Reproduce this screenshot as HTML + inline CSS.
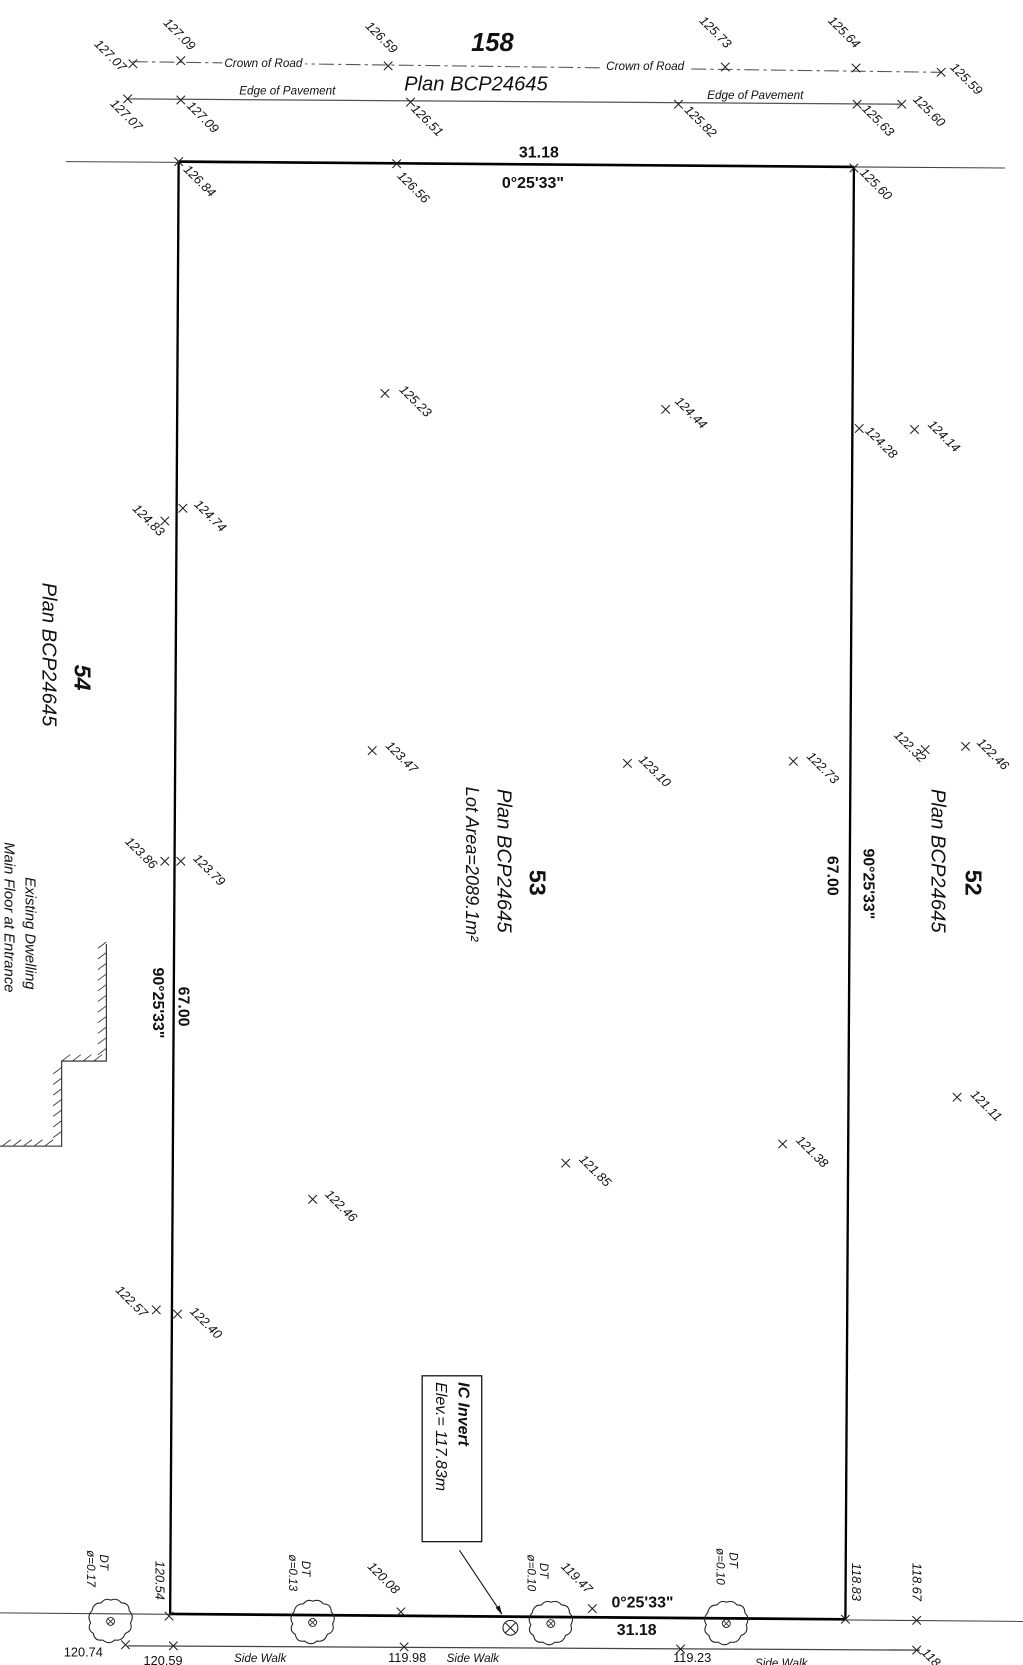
<!DOCTYPE html>
<html><head><meta charset="utf-8"><style>
html,body{margin:0;padding:0;background:#fff;}
svg{display:block;}
text{font-family:"Liberation Sans",sans-serif;fill:#111;}
.e{font-size:12px;font-style:italic;}
.b{font-weight:bold;}
.i{font-style:italic;}
</style></head><body>
<svg width="1023" height="1665" viewBox="0 0 962 1566" preserveAspectRatio="none" xmlns="http://www.w3.org/2000/svg">
<defs>
<g id="x"><path d="M-4,-4L4,4M-4,4L4,-4" stroke="#222" stroke-width="1"/></g>
<g id="t"><g transform="scale(1.25)"><path d="M0,-16 q5,-2 8,2 q6,0 6,6 q4,4 1,9 q2,6 -4,8 q-2,6 -8,5 q-4,4 -9,0 q-6,1 -7,-5 q-5,-3 -2,-8 q-3,-5 1,-9 q1,-6 7,-6 q3,-4 7,-2z" fill="none" stroke="#222" stroke-width="0.8"/><circle r="3" fill="none" stroke="#222" stroke-width="0.7"/><path d="M-2,-2L2,2M-2,2L2,-2" stroke="#222" stroke-width="0.6"/></g></g>
</defs>
<!-- road lines -->
<line x1="125" y1="58" x2="885" y2="68" stroke="#555" stroke-width="1" stroke-dasharray="14,4,3,4"/>
<line x1="120" y1="93" x2="848" y2="98" stroke="#555" stroke-width="1.2"/>
<rect x="209" y="53" width="78" height="12" fill="#fff"/>
<rect x="568" y="56" width="78" height="12" fill="#fff"/>
<line x1="62" y1="152" x2="945" y2="158" stroke="#444" stroke-width="1"/>
<line x1="168" y1="152" x2="803" y2="157" stroke="#000" stroke-width="2.5"/>
<line x1="168" y1="152" x2="160" y2="1519" stroke="#000" stroke-width="2.2"/>
<line x1="803" y1="157" x2="795" y2="1523" stroke="#000" stroke-width="2.2"/>
<line x1="0" y1="1517" x2="962" y2="1525" stroke="#444" stroke-width="1"/>
<line x1="160" y1="1518" x2="795" y2="1523" stroke="#000" stroke-width="2.5"/>
<line x1="120" y1="1548" x2="865" y2="1552" stroke="#444" stroke-width="1.2"/>
<!-- markers -->
<use href="#x" x="125" y="60"/><use href="#x" x="170" y="57"/><use href="#x" x="365" y="62"/><use href="#x" x="682" y="63"/><use href="#x" x="805" y="64"/><use href="#x" x="885" y="68"/>
<use href="#x" x="120" y="93"/><use href="#x" x="170" y="94"/><use href="#x" x="386" y="96"/><use href="#x" x="638" y="98"/><use href="#x" x="806" y="98"/><use href="#x" x="848" y="98"/>
<use href="#x" x="168" y="152"/><use href="#x" x="373" y="154"/><use href="#x" x="803" y="158"/>
<use href="#x" x="362" y="370"/><use href="#x" x="626" y="385"/><use href="#x" x="808" y="403"/><use href="#x" x="860" y="404"/>
<use href="#x" x="172" y="478"/><use href="#x" x="155" y="490"/><use href="#x" x="350" y="706"/><use href="#x" x="590" y="718"/><use href="#x" x="746" y="716"/><use href="#x" x="870" y="705"/><use href="#x" x="908" y="702"/>
<use href="#x" x="155" y="810"/><use href="#x" x="170" y="810"/><use href="#x" x="900" y="1032"/><use href="#x" x="736" y="1076"/><use href="#x" x="532" y="1094"/><use href="#x" x="294" y="1128"/><use href="#x" x="147" y="1232"/><use href="#x" x="167" y="1236"/>
<use href="#x" x="159" y="1520"/><use href="#x" x="377" y="1516"/><use href="#x" x="557" y="1513"/><use href="#x" x="795" y="1523"/><use href="#x" x="862" y="1524"/>
<use href="#x" x="118" y="1547"/><use href="#x" x="163" y="1548"/><use href="#x" x="380" y="1549"/><use href="#x" x="640" y="1551"/><use href="#x" x="862" y="1552"/>
<!-- trees & manhole -->
<use href="#t" x="104" y="1525"/><use href="#t" x="294" y="1526"/><use href="#t" x="518" y="1527"/><use href="#t" x="683" y="1527"/>
<circle cx="480" cy="1531" r="7" fill="none" stroke="#222" stroke-width="1"/><path d="M475,1526L485,1536M475,1536L485,1526" stroke="#222" stroke-width="1"/>
<!-- elevation labels rotated 45 -->
<g class="e">
<text transform="translate(88,42) rotate(45)">127.07</text>
<text transform="translate(153,22) rotate(45)">127.09</text>
<text transform="translate(343,25) rotate(45)">126.59</text>
<text transform="translate(657,20) rotate(45)">125.73</text>
<text transform="translate(778,20) rotate(45)">125.64</text>
<text transform="translate(893,64) rotate(45)">125.59</text>
<text transform="translate(103,98) rotate(45)">127.07</text>
<text transform="translate(175,100) rotate(45)">127.09</text>
<text transform="translate(386,103) rotate(45)">126.51</text>
<text transform="translate(643,104) rotate(45)">125.82</text>
<text transform="translate(810,103) rotate(45)">125.63</text>
<text transform="translate(858,94) rotate(45)">125.60</text>
<text transform="translate(172,160) rotate(45)">126.84</text>
<text transform="translate(373,166) rotate(45)">126.56</text>
<text transform="translate(808,163) rotate(45)">125.60</text>
<text transform="translate(375,367) rotate(45)">125.23</text>
<text transform="translate(634,378) rotate(45)">124.44</text>
<text transform="translate(813,406) rotate(45)">124.28</text>
<text transform="translate(872,400) rotate(45)">124.14</text>
<text transform="translate(182,475) rotate(45)">124.74</text>
<text transform="translate(124,479) rotate(45)">124.83</text>
<text transform="translate(362,702) rotate(45)">123.47</text>
<text transform="translate(600,715) rotate(45)">123.10</text>
<text transform="translate(758,712) rotate(45)">122.73</text>
<text transform="translate(840,692) rotate(45)">122.32</text>
<text transform="translate(918,699) rotate(45)">122.46</text>
<text transform="translate(117,792) rotate(45)">123.86</text>
<text transform="translate(181,808) rotate(45)">123.79</text>
<text transform="translate(912,1030) rotate(45)">121.11</text>
<text transform="translate(748,1073) rotate(45)">121.38</text>
<text transform="translate(544,1091) rotate(45)">121.85</text>
<text transform="translate(305,1124) rotate(45)">122.46</text>
<text transform="translate(108,1214) rotate(45)">122.57</text>
<text transform="translate(178,1234) rotate(45)">122.40</text>
<text transform="translate(345,1474) rotate(45)">120.08</text>
<text transform="translate(527,1474) rotate(45)">119.47</text>
<text transform="translate(866,1555) rotate(45)">118.</text>
</g>
<!-- vertical labels -->
<g class="e">
<text transform="translate(146,1468) rotate(90)">120.54</text>
<text transform="translate(801,1470) rotate(90)">118.83</text>
<text transform="translate(858,1470) rotate(90)">118.67</text>
<text transform="translate(94,1462) rotate(90)" font-size="11">DT</text>
<text transform="translate(82,1458) rotate(90)" font-size="11">ø=0.17</text>
<text transform="translate(284,1468) rotate(90)" font-size="11">DT</text>
<text transform="translate(272,1462) rotate(90)" font-size="11">ø=0.13</text>
<text transform="translate(508,1470) rotate(90)" font-size="11">DT</text>
<text transform="translate(496,1462) rotate(90)" font-size="11">ø=0.10</text>
<text transform="translate(686,1460) rotate(90)" font-size="11">DT</text>
<text transform="translate(674,1456) rotate(90)" font-size="11">ø=0.10</text>
</g>
<!-- horizontal small text -->
<g style="font-size:12px">
<text x="60" y="1558">120.74</text>
<text x="135" y="1566">120.59</text>
<text x="365" y="1563">119.98</text>
<text x="633" y="1563">119.23</text>
</g>
<g class="i" style="font-size:11px">
<text x="220" y="1563">Side Walk</text>
<text x="420" y="1563">Side Walk</text>
<text x="710" y="1568">Side Walk</text>
<text x="211" y="63">Crown of Road</text>
<text x="570" y="66">Crown of Road</text>
<text x="225" y="89">Edge of Pavement</text>
<text x="665" y="93">Edge of Pavement</text>
</g>
<text x="443" y="48" class="b i" font-size="24">158</text>
<text x="380" y="85" class="i" font-size="19" fill="#333">Plan BCP24645</text>
<text x="488" y="148" class="b" font-size="15">31.18</text>
<text x="472" y="177" class="b" font-size="15">0°25'33"</text>
<text x="575" y="1512" class="b" font-size="15">0°25'33"</text>
<text x="580" y="1538" class="b" font-size="15">31.18</text>
<!-- big rotated labels -->
<text transform="translate(70,625) rotate(90)" class="b i" font-size="22">54</text>
<text transform="translate(40,548) rotate(90)" class="i" font-size="19" fill="#333">Plan BCP24645</text>
<text transform="translate(498,818) rotate(90)" class="b" font-size="22">53</text>
<text transform="translate(468,742) rotate(90)" class="i" font-size="19" fill="#333">Plan BCP24645</text>
<text transform="translate(438,740) rotate(90)" class="i" font-size="17" fill="#333">Lot Area=2089.1m²</text>
<text transform="translate(908,818) rotate(90)" class="b" font-size="22">52</text>
<text transform="translate(876,742) rotate(90)" class="i" font-size="19" fill="#333">Plan BCP24645</text>
<text transform="translate(812,798) rotate(90)" class="b" font-size="15">90°25'33"</text>
<text transform="translate(778,805) rotate(90)" class="b" font-size="15">67.00</text>
<text transform="translate(168,928) rotate(90)" class="b" font-size="15">67.00</text>
<text transform="translate(144,910) rotate(90)" class="b" font-size="15">90°25'33"</text>
<text transform="translate(24,825) rotate(90)" class="i" font-size="14">Existing Dwelling</text>
<text transform="translate(4,792) rotate(90)" class="i" font-size="14">Main Floor at Entrance</text>
<!-- dwelling outline hatched -->
<path d="M100,888 L100,998 L58,998 L58,1078 L0,1078" fill="none" stroke="#222" stroke-width="1"/>
<g stroke="#333" stroke-width="0.8">
<path d="M92,892l8,-6M92,902l8,-6M92,912l8,-6M92,922l8,-6M92,932l8,-6M92,942l8,-6M92,952l8,-6M92,962l8,-6M92,972l8,-6M92,982l8,-6M92,992l8,-6"/>
<path d="M58,998l8,-6M68,998l8,-6M78,998l8,-6M88,998l8,-6"/>
<path d="M50,1010l8,-6M50,1020l8,-6M50,1030l8,-6M50,1040l8,-6M50,1050l8,-6M50,1060l8,-6M50,1070l8,-6"/>
<path d="M2,1078l8,-6M12,1078l8,-6M22,1078l8,-6M32,1078l8,-6M42,1078l8,-6"/>
</g>
<!-- IC Invert box -->
<rect x="397" y="1294" width="56" height="156" fill="#fff" stroke="#111" stroke-width="1.2"/>
<text transform="translate(431,1300) rotate(90)" class="b i" font-size="15">IC Invert</text>
<text transform="translate(410,1300) rotate(90)" class="i" font-size="15">Elev.= 117.83m</text>
<line x1="432" y1="1458" x2="472" y2="1518" stroke="#111" stroke-width="1"/>
<path d="M472,1519 l-6,-7 l4,-2z" fill="#111"/>
</svg>
</body></html>
